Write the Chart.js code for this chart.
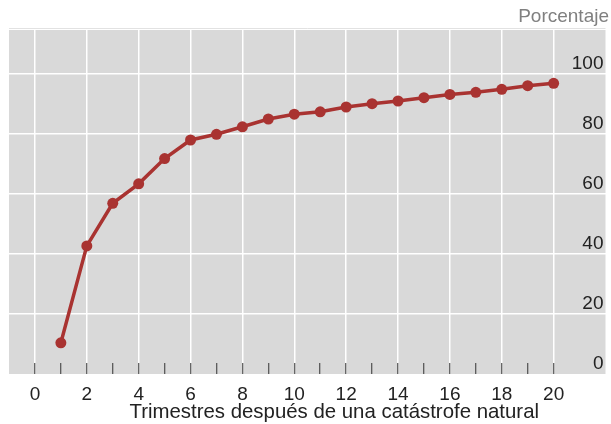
<!DOCTYPE html>
<html>
<head>
<meta charset="utf-8">
<script src="https://cdn.jsdelivr.net/npm/chart.js@4.4.1/dist/chart.umd.min.js"></script>
<style>
  html, body { margin: 0; padding: 0; background: #fff; }
  #wrap { width: 611px; height: 424px; }
</style>
</head>
<body>
<div id="wrap"><canvas id="graph"></canvas></div>
<script>
// Trimestres después de la catástrofe y porcentaje acumulado
const trimestres = [1, 2, 3, 4, 5, 6, 7, 8, 9, 10, 11, 12, 13, 14, 15, 16, 17, 18, 19, 20];
const porcentaje = [10.4, 42.7, 56.9, 63.4, 71.8, 78, 79.9, 82.4, 85, 86.6, 87.4, 89, 90.1, 91, 92.1, 93.2, 93.9, 94.9, 96.1, 96.9];
const xTicks = [0, 1, 2, 3, 4, 5, 6, 7, 8, 9, 10, 11, 12, 13, 14, 15, 16, 17, 18, 19, 20];
const yTicks = [0, 20, 40, 60, 80, 100];
const tituloX = "Trimestres después de una catástrofe natural";

const rojo = "#a93331";
const fuente = "'Liberation Sans', Arial, sans-serif";

// Fond gris de la zone du graphique + fine ligne au-dessus
const fondGris = {
    id: "fondGris",
    beforeDraw(chart) {
        const { ctx, chartArea } = chart;
        ctx.save();
        ctx.fillStyle = "#d9d9d9";
        ctx.fillRect(chartArea.left, chartArea.top + 1, chartArea.right - chartArea.left, chartArea.bottom - chartArea.top - 1);
        ctx.strokeStyle = "#e2e2e2";
        ctx.lineWidth = 1;
        ctx.beginPath();
        ctx.moveTo(chartArea.left, chartArea.top - 0.5);
        ctx.lineTo(chartArea.right, chartArea.top - 0.5);
        ctx.stroke();
        ctx.restore();
    }
};

// Titre de l'axe X (décalé vers la droite comme dans l'original)
const titreAxeX = {
    id: "titreAxeX",
    afterDraw(chart) {
        const { ctx, chartArea } = chart;
        ctx.save();
        ctx.fillStyle = "#222222";
        ctx.font = "20.4px " + fuente;
        ctx.textAlign = "center";
        ctx.textBaseline = "alphabetic";
        ctx.fillText(tituloX, (chartArea.left + chartArea.right) / 2 + 27, chartArea.bottom + 43.5);
        ctx.restore();
    }
};

const ctx = document.getElementById("graph").getContext("2d");
const graph = new Chart(ctx, {
    type: "line",
    data: {
        datasets: [{
            data: trimestres.map((t, i) => ({ x: t, y: porcentaje[i] })),
            borderColor: rojo,
            backgroundColor: rojo,
            borderWidth: 3.5,
            pointRadius: 5.5,
            pointBorderWidth: 0,
            pointBackgroundColor: rojo,
            tension: 0
        }]
    },
    options: {
        responsive: true,
        maintainAspectRatio: false,
        animation: false,
        layout: { padding: { left: 9, right: 2, top: 0, bottom: 0 } },
        plugins: {
            legend: { display: false },
            tooltip: { enabled: false },
            title: {
                display: true,
                text: "Porcentaje",
                align: "end",
                color: "#808080",
                font: { family: fuente, size: 19, weight: "normal" },
                padding: { top: 5, bottom: 1.2 }
            }
        },
        scales: {
            x: {
                type: "linear",
                min: -1,
                max: 22,
                afterBuildTicks: (scale) => { scale.ticks = xTicks.map(v => ({ value: v })); },
                afterFit: (scale) => { scale.height = 50; },
                border: { display: false },
                grid: {
                    color: (c) => (c.tick && c.tick.value % 2 === 0) ? "#ffffff" : "rgba(0,0,0,0)",
                    lineWidth: 1.5,
                    drawTicks: true,
                    tickLength: -11,
                    tickColor: "#333333",
                    tickWidth: 1
                },
                ticks: {
                    autoSkip: false,
                    maxRotation: 0,
                    padding: 20,
                    color: "#222222",
                    font: { family: fuente, size: 19 },
                    callback: (v) => (v % 2 === 0 ? String(v) : "")
                },
                title: { display: false }
            },
            y: {
                position: "right",
                min: 0,
                max: 115,
                afterBuildTicks: (scale) => { scale.ticks = yTicks.map(v => ({ value: v })); },
                afterFit: (scale) => { scale.width = 0; },
                border: { display: false },
                grid: {
                    color: (c) => (c.tick && c.tick.value > 0) ? "#ffffff" : "rgba(0,0,0,0)",
                    lineWidth: 1.5,
                    drawTicks: false
                },
                ticks: {
                    mirror: true,
                    padding: -2,
                    labelOffset: -10,
                    color: "#222222",
                    font: { family: fuente, size: 19 }
                }
            }
        }
    },
    plugins: [fondGris, titreAxeX]
});
</script>
</body>
</html>
